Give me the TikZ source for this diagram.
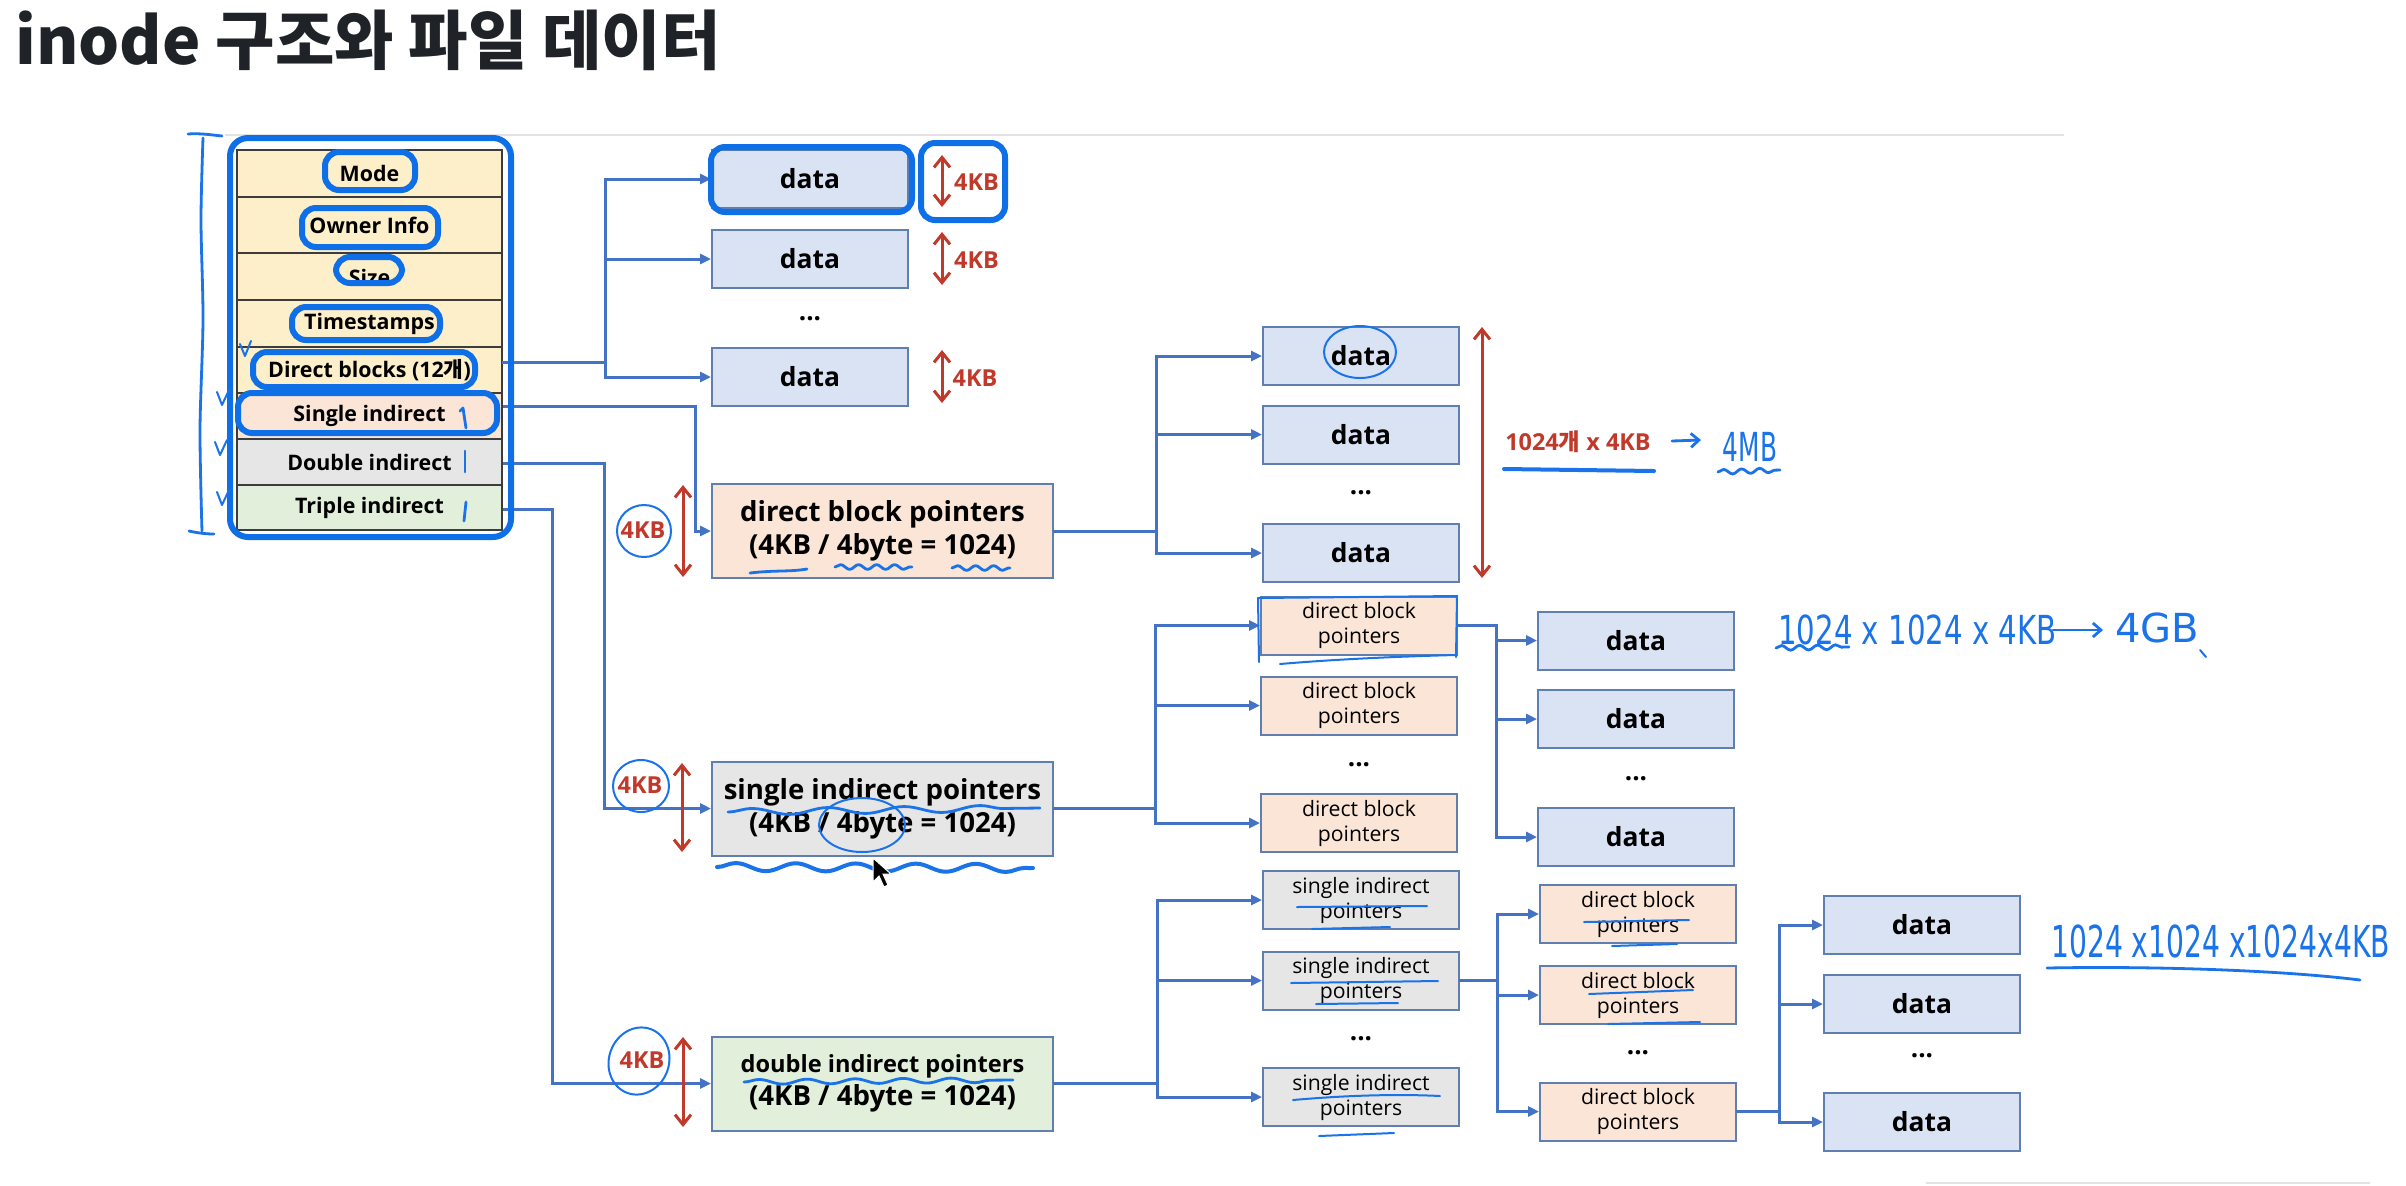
\documentclass[tikz,border=0pt]{standalone}
\usepackage{fontspec}
\setmainfont{Open Sans}
\newfontfamily\kr{Noto Sans CJK KR}
\newfontfamily\hand{DejaVu Sans}
\usetikzlibrary{arrows.meta,calc,decorations.pathmorphing}
\definecolor{connc}{HTML}{4472C4}
\definecolor{boxline}{HTML}{5F7FB0}
\definecolor{datafill}{HTML}{DAE3F3}
\definecolor{peach}{HTML}{FBE5D6}
\definecolor{grayf}{HTML}{E7E6E6}
\definecolor{greenf}{HTML}{E2EFDA}
\definecolor{yellowf}{HTML}{FDEFC9}
\definecolor{redc}{HTML}{C0392B}
\definecolor{hlblue}{HTML}{0F6FE6}
\definecolor{penblue}{HTML}{1A73E8}
\definecolor{titlec}{HTML}{1F2328}
\definecolor{tableline}{HTML}{3C3C3C}
\definecolor{rulegray}{HTML}{E2E2E2}
\tikzset{
  conn/.style={draw=connc,line width=1.5pt,line cap=rect},
  connarrow/.style={draw=connc,line width=1.5pt,-{Triangle[length=5.5pt,width=5pt]}},
  blk/.style={draw=boxline,line width=1pt,rectangle,inner sep=0pt,align=center,text=black},
  datablk/.style={blk,fill=datafill,minimum width=98pt,minimum height=29pt,font=\bfseries\fontsize{13.2}{15}\selectfont},
  row/.style={draw=tableline,line width=1pt,rectangle,minimum width=132.5pt,inner sep=0pt,text=black,font=\bfseries\fontsize{10.7}{12}\selectfont},
  bigblk/.style={blk,minimum width=170.5pt,minimum height=47pt,font=\bfseries\fontsize{13.8}{16.5}\selectfont},
  smallblk/.style={blk,minimum width=98pt,minimum height=29pt,font=\fontsize{10.6}{12.5}\selectfont},
  dotsn/.style={inner sep=0pt,font=\bfseries\fontsize{13}{13}\selectfont},
  redarrow/.style={draw=redc,line width=1.5pt,{Straight Barb[length=5pt,width=8pt]}-{Straight Barb[length=5pt,width=8pt]}},
  redlabel/.style={inner sep=0pt,text=redc,font=\bfseries\fontsize{11.7}{13}\selectfont},
  hl/.style={draw=hlblue,line width=3pt,rounded corners=7pt},
  pen/.style={draw=penblue,line width=1.4pt,line cap=round,line join=round},
  thinpen/.style={draw=penblue,line width=1pt,line cap=round,line join=round},
  wave/.style={pen,decorate,decoration={snake,amplitude=1.2pt,segment length=9pt}},
  handtxt/.style={inner sep=0pt,text=penblue,font=\hand\fontsize{20}{20}\selectfont},
}
\begin{document}
\begin{tikzpicture}[x=0.5pt,y=-0.5pt]
\useasboundingbox (0,0) rectangle (2406,1185);
\fill[white] (0,0) rectangle (2406,1185);
% title
\node[anchor=base west,inner sep=0pt,text=titlec,font=\kr\bfseries\fontsize{32.3}{32}\selectfont] (title) at (15,64) {inode 구조와 파일 데이터};
% rules
\draw[rulegray,line width=1pt] (225,135) -- (2064,135);
\draw[rulegray,line width=1pt] (1926,1183) -- (2370,1183);

% inode table
\node[row,fill=yellowf,minimum height=23.5pt] (rMode) at (369.5,173.5) {Mode};
\node[row,fill=yellowf,minimum height=28pt] (rOwner) at (369.5,225) {Owner Info};
\node[row,fill=yellowf,minimum height=23.5pt] (rSize) at (369.5,276.5) {};
\begin{scope}
  \clip (240,255) rectangle (500,281);
  \node[anchor=base,inner sep=0pt,font=\bfseries\fontsize{10.7}{12}\selectfont] (tSize) at (369.5,285) {Size};
\end{scope}
\node[row,fill=yellowf,minimum height=23.5pt] (rTime) at (369.5,323.5) {Timestamps};
\node[row,fill=yellowf,minimum height=23pt] (rDirect) at (369.5,370) {Direct blocks (12{\kr 개})};
\node[row,fill=peach,minimum height=23pt] (rSingle) at (369.5,416) {Single indirect};
\node[row,fill=grayf,minimum height=23pt] (rDouble) at (369.5,462) {Double indirect};
\node[row,fill=greenf,minimum height=22.5pt] (rTriple) at (369.5,507.5) {Triple indirect};

% direct data column
\node[datablk] (d1a) at (810,179) {data};
\node[datablk] (d1b) at (810,259) {data};
\node[dotsn] (d1dots) at (810,319) {...};
\node[datablk] (d1c) at (810,377) {data};

% first-level pointer blocks
\node[bigblk,fill=peach] (dbp) at (882.5,531) {direct block pointers\\(4KB / 4byte = 1024)};
\node[bigblk,fill=grayf] (sip) at (882.5,808.5) {single indirect pointers\\(4KB / 4byte = 1024)};
\node[bigblk,fill=greenf] (dip) at (882.5,1083.5) {{\fontsize{11.8}{16.5}\selectfont double indirect pointers}\\(4KB / 4byte = 1024)};

% column 2
\node[datablk] (d2a) at (1361,356) {data};
\node[datablk] (d2b) at (1361,434.5) {data};
\node[dotsn] (d2dots) at (1361,493) {...};
\node[datablk] (d2c) at (1361,553) {data};

\node[smallblk,fill=peach] (p2a) at (1359,625.5) {direct block\\pointers};
\node[smallblk,fill=peach] (p2b) at (1359,705.5) {direct block\\pointers};
\node[dotsn] (p2dots) at (1359,765) {...};
\node[smallblk,fill=peach] (p2c) at (1359,823) {direct block\\pointers};

\node[smallblk,fill=grayf] (s2a) at (1361,900) {single indirect\\pointers};
\node[smallblk,fill=grayf] (s2b) at (1361,980.5) {single indirect\\pointers};
\node[dotsn] (s2dots) at (1361,1039) {...};
\node[smallblk,fill=grayf] (s2c) at (1361,1097) {single indirect\\pointers};

% column 3
\node[datablk] (d3a) at (1636,640.5) {data};
\node[datablk] (d3b) at (1636,719) {data};
\node[dotsn] (d3dots) at (1636,779) {...};
\node[datablk] (d3c) at (1636,837) {data};

\node[smallblk,fill=peach] (p3a) at (1638,914) {direct block\\pointers};
\node[smallblk,fill=peach] (p3b) at (1638,995) {direct block\\pointers};
\node[dotsn] (p3dots) at (1638,1053) {...};
\node[smallblk,fill=peach] (p3c) at (1638,1111.5) {direct block\\pointers};

% column 4
\node[datablk] (d4a) at (1922,925) {data};
\node[datablk] (d4b) at (1922,1004) {data};
\node[dotsn] (d4dots) at (1922,1056) {...};
\node[datablk] (d4c) at (1922,1122) {data};

% connectors from inode rows
\coordinate (jA) at (605,362);
\draw[conn] (rDirect.east |- jA) -- (jA);
\draw[conn] (jA |- d1a.west) -- (jA |- d1c.west);
\foreach \t in {d1a,d1b,d1c} {\draw[connarrow] (jA |- \t.west) -- (\t.west);}
\coordinate (jB) at (695,406);
\draw[connarrow] (rSingle.east |- jB) -- (jB) |- (dbp.west);
\coordinate (jC) at (604,463);
\draw[connarrow] (rDouble.east |- jC) -- (jC) |- (sip.west);
\coordinate (jD) at (552,509);
\draw[connarrow] (rTriple.east |- jD) -- (jD) |- (dip.west);

% fans
\coordinate (jE) at (1156,531);
\draw[conn] (dbp.east) -- (jE |- dbp.east);
\draw[conn] (jE |- d2a.west) -- (jE |- d2c.west);
\foreach \t in {d2a,d2b,d2c} {\draw[connarrow] (jE |- \t.west) -- (\t.west);}

\coordinate (jF) at (1155,808);
\draw[conn] (sip.east) -- (jF |- sip.east);
\draw[conn] (jF |- p2a.west) -- (jF |- p2c.west);
\foreach \t in {p2a,p2b,p2c} {\draw[connarrow] (jF |- \t.west) -- (\t.west);}

\coordinate (jG) at (1496,625);
\draw[conn] (p2a.east) -- (jG |- p2a.east);
\draw[conn] (jG |- p2a.east) -- (jG |- d3c.west);
\foreach \t in {d3a,d3b,d3c} {\draw[connarrow] (jG |- \t.west) -- (\t.west);}

\coordinate (jH) at (1157,1081);
\draw[conn] (dip.east) -- (jH |- dip.east);
\draw[conn] (jH |- s2a.west) -- (jH |- s2c.west);
\foreach \t in {s2a,s2b,s2c} {\draw[connarrow] (jH |- \t.west) -- (\t.west);}

\coordinate (jI) at (1497,978);
\draw[conn] (s2b.east) -- (jI |- s2b.east);
\draw[conn] (jI |- p3a.west) -- (jI |- p3c.west);
\foreach \t in {p3a,p3b,p3c} {\draw[connarrow] (jI |- \t.west) -- (\t.west);}

\coordinate (jJ) at (1779,1110);
\draw[conn] (p3c.east) -- (jJ |- p3c.east);
\draw[conn] (jJ |- d4a.west) -- (jJ |- d4c.west);
\foreach \t in {d4a,d4b,d4c} {\draw[connarrow] (jJ |- \t.west) -- (\t.west);}

% red size arrows
\draw[redarrow] (942,155) -- (942,207);
\node[redlabel] (k1) at (976.5,182) {4KB};
\draw[redarrow] (942,232) -- (942,285);
\node[redlabel] (k2) at (976.5,260) {4KB};
\draw[redarrow] (942,350) -- (942,403);
\node[redlabel] (k3) at (975,378) {4KB};
\draw[redarrow] (1482,327) -- (1482,578);
\node[redlabel] (kbig) at (1578,442) {1024{\kr 개} x 4KB};
\draw[redarrow] (683,485) -- (683,577);
\node[redlabel] (k4) at (643,530) {4KB};
\draw[redarrow] (682,763) -- (682,852);
\node[redlabel] (k5) at (640,785) {4KB};
\draw[redarrow] (683,1037) -- (683,1127);
\node[redlabel] (k6) at (642,1060) {4KB};

% blue highlight boxes
\draw[hl,rounded corners=9pt] (230,138) rectangle (511,537);
\draw[hl] (325,152) rectangle (415,190);
\draw[hl] (302,208) rectangle (438,247);
\draw[hl] (336,257) rectangle (402,283);
\draw[hl] (292,307) rectangle (440,340);
\draw[hl] (253,352) rectangle (475,387);
\draw[hl] (238,393) rectangle (497,433);
\draw[hl] (711,147) rectangle (912,212);
\draw[hl] (921,143) rectangle (1005,220);

% hand-drawn marks
\draw[pen] (188,134) .. controls (200,133) and (212,135) .. (222,136);
\draw[pen] plot[smooth] coordinates {(203,138) (201,220) (203,320) (200,430) (202,531)};
\draw[pen] (189,531) .. controls (198,533) and (206,534) .. (214,534);
\draw[thinpen] (240,344) -- (245,356) -- (251,341);
\draw[thinpen] (217,392) -- (222,405) -- (229,390);
\draw[thinpen] (215,442) -- (220,455) -- (227,440);
\draw[thinpen] (217,492) -- (222,505) -- (229,490);
\draw[pen] (460,411) -- (463,408) -- (466,428);
\draw[pen] (465,451) -- (465,472);
\draw[pen] (466,502) -- (464,521);

\draw[thinpen] (644,531) ellipse [x radius=13.5pt, y radius=13pt];
\draw[thinpen] (641,786) ellipse [x radius=14pt, y radius=13pt];
\draw[thinpen,rotate around={-20:(639,1061)}] (639,1061) ellipse [x radius=15pt, y radius=17pt];

\draw[pen] (750,573) .. controls (775,570) and (790,572) .. (807,569);
\draw[wave] (835,567) -- (912,567);
\draw[wave] (952,568) -- (1010,568);

\draw[pen,decorate,decoration={snake,amplitude=1.6pt,segment length=38pt}] (728,812) -- (1040,808);
\draw[thinpen] (862,825) ellipse [x radius=21.5pt, y radius=13.5pt];
\draw[pen,line width=2pt,decorate,decoration={snake,amplitude=2pt,segment length=30pt}] (717,867) -- (1033,868);
\draw[pen,decorate,decoration={snake,amplitude=1.2pt,segment length=24pt}] (744,1082) -- (1013,1080);

\draw[thinpen] (1360,352) ellipse [x radius=18pt, y radius=13pt];

\draw[pen,line width=2pt] (1504,469) -- (1654,471);
\draw[pen,-{Straight Barb[length=4pt,width=7pt]}] (1672,441) -- (1701,440);
\node[handtxt] (h4mb) at (1750,447) {\scalebox{0.62}[1]{4MB}};
\draw[wave] (1718,472) -- (1780,470);

\draw[thinpen] (1259,662) -- (1258,598) -- (1457,596) -- (1456,657);
\draw[thinpen] (1280,664) .. controls (1350,658) and (1420,656) .. (1455,655);

\node[handtxt,anchor=west] (h4gba) at (1778,630) {\scalebox{0.73}[1]{1024 x 1024 x 4KB}};
\draw[pen,-{Straight Barb[length=4pt,width=7pt]}] (2053,630) -- (2103,630);
\node[handtxt,anchor=west] (h4gbb) at (2115,628) {4GB};
\draw[wave] (1776,648) -- (1849,647);
\draw[thinpen] (2200,650) -- (2206,657);

\node[handtxt,anchor=west,font=\hand\fontsize{22}{22}\selectfont] (h4tb) at (2051,941) {\scalebox{0.64}[1]{1024 x1024 x1024x4KB}};
\draw[pen] (2047,968) .. controls (2150,966) and (2280,970) .. (2360,980);

\draw[thinpen] (1297,907) -- (1427,906);
\draw[thinpen] (1312,929) -- (1390,927);
\draw[thinpen] (1291,983) -- (1438,981);
\draw[thinpen] (1316,1004) -- (1398,1003);
\draw[thinpen] (1293,1100) .. controls (1350,1095) and (1400,1094) .. (1440,1096);
\draw[thinpen] (1319,1136) -- (1394,1133);
\draw[thinpen] (1584,922) -- (1689,920);
\draw[thinpen] (1612,946) -- (1677,944);
\draw[thinpen] (1589,994) -- (1693,990);
\draw[thinpen] (1608,1024) -- (1700,1022);

% mouse pointer
\filldraw[fill=black,draw=white,line width=0.5pt] (873,858) -- (873,882) -- (879,876) -- (884,887) -- (888,885) -- (883,874) -- (891,874) -- cycle;
\end{tikzpicture}
\end{document}
